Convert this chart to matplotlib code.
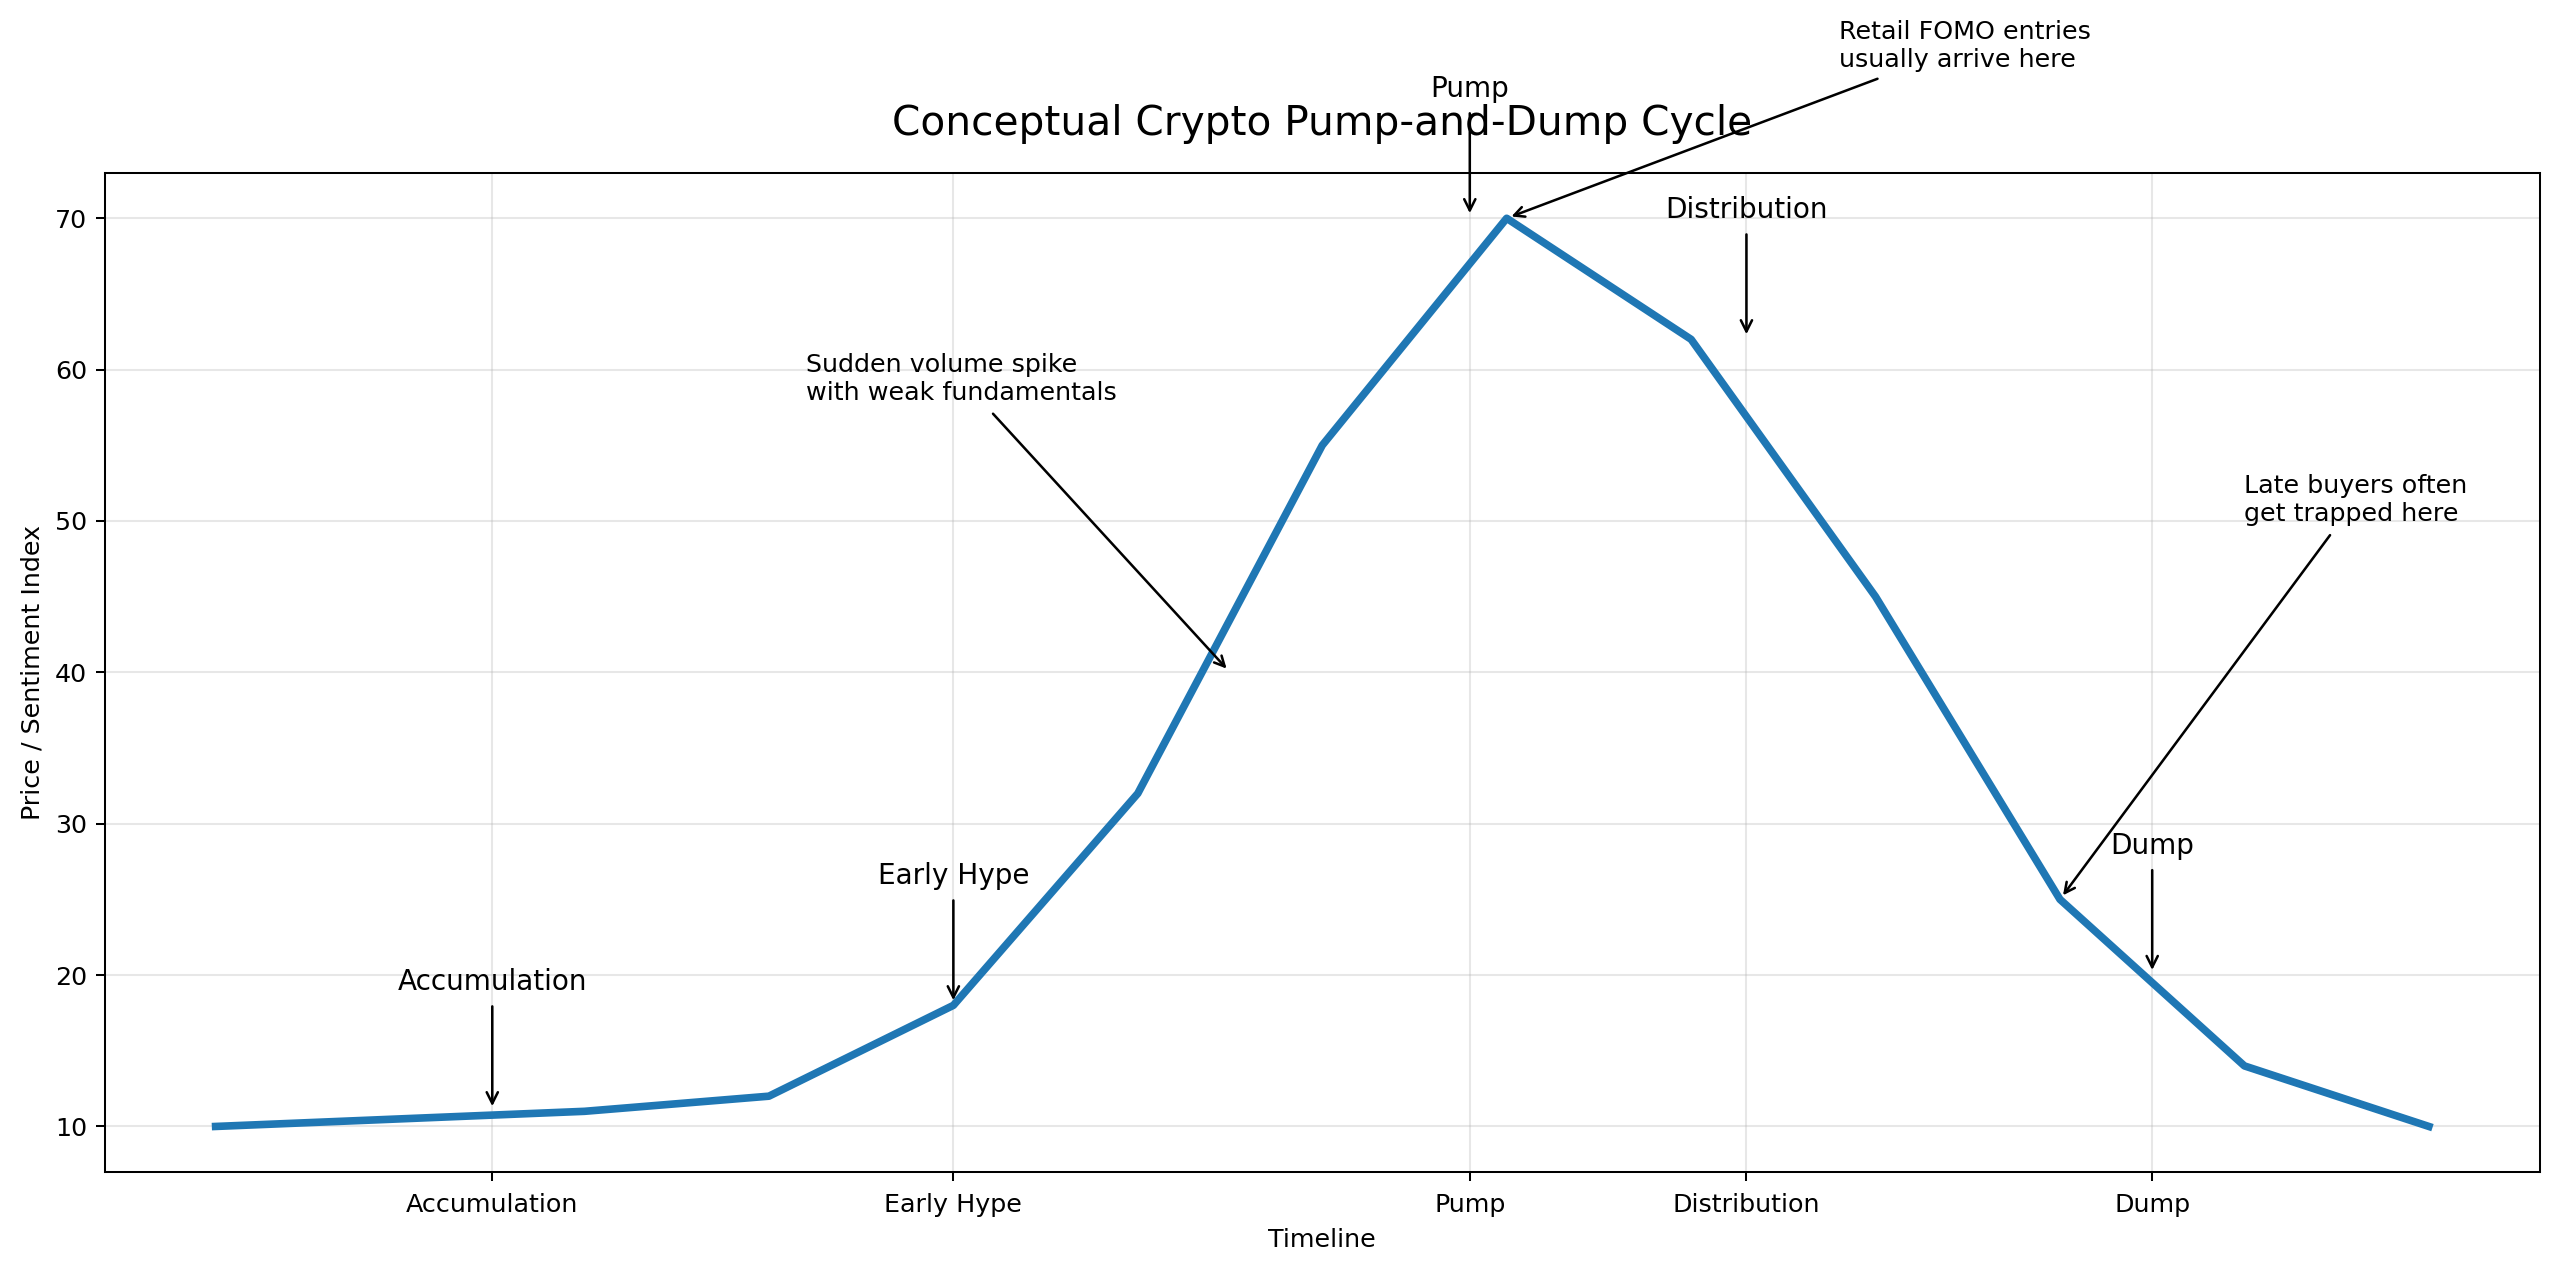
import matplotlib.pyplot as plt
import numpy as np

# price / sentiment path over the timeline
steps = np.arange(13)
price = [10, 10.5, 11, 12, 18, 32, 55, 70, 62, 45, 25, 14, 10]

# phase markers (tick positions + where the arrow lands)
phase_names = ["Accumulation", "Early Hype", "Pump", "Distribution", "Dump"]
phase_x = [1.5, 4, 6.8, 8.3, 10.5]
phase_y = [11, 18, 70, 62, 20]

# callout notes: text, target point, text position
note_text = ["Sudden volume spike\nwith weak fundamentals",
             "Retail FOMO entries\nusually arrive here",
             "Late buyers often\nget trapped here"]
note_xy = [(5.5, 40), (7, 70), (10, 25)]
note_text_xy = [(3.2, 58), (8.8, 80), (11, 50)]

DPI = 2560 / 14
fig, ax = plt.subplots(figsize=(14, 1271 / DPI), dpi=DPI)
ax.plot(steps, price, color="#1f77b4", linewidth=3)

for name, x, y in zip(phase_names, phase_x, phase_y):
    ax.annotate(name, xy=(x, y), xytext=(x, y + 8), ha="center",
                fontsize=11, arrowprops=dict(arrowstyle="->", color="black", lw=1))

for txt, xy, xyt in zip(note_text, note_xy, note_text_xy):
    ax.annotate(txt, xy=xy, xytext=xyt, fontsize=10,
                arrowprops=dict(arrowstyle="->", color="black", lw=1))

ax.set_xticks(phase_x)
ax.set_xticklabels(phase_names)
ax.tick_params(axis="x", pad=5)
ax.set_xlabel("Timeline")
ax.set_ylabel("Price / Sentiment Index")
ax.set_title("Conceptual Crypto Pump-and-Dump Cycle", fontsize=16, pad=15)
ax.grid(alpha=0.3)

fig.subplots_adjust(left=0.041, right=0.992, top=0.864, bottom=0.078)
fig.savefig("out.png", dpi=DPI)
